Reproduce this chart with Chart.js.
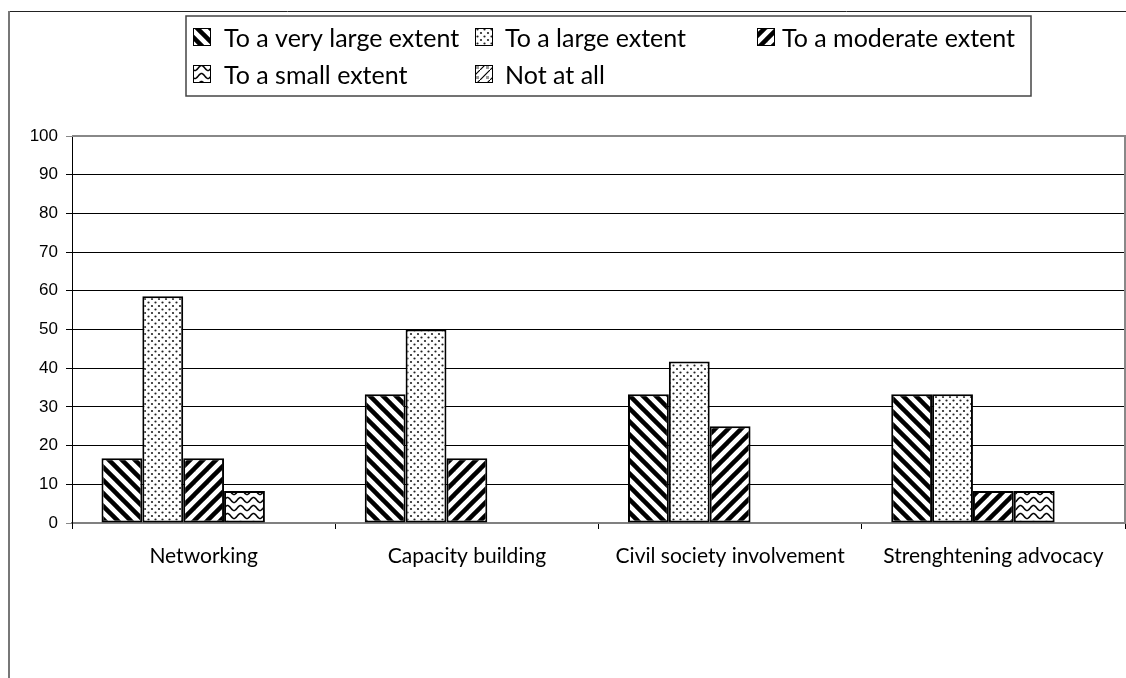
<!DOCTYPE html>
<html>
<head>
<meta charset="utf-8">
<script src="https://cdn.jsdelivr.net/npm/chart.js@4/dist/chart.umd.min.js"></script>
<style>
  html, body { margin: 0; padding: 0; background: #fff; }
  #wrap { position: relative; width: 1126px; height: 678px; }
</style>
</head>
<body>
<div id="wrap"><canvas id="c" width="1126" height="678"></canvas></div>
<script>
const categories = ["Networking", "Capacity building", "Civil society involvement", "Strenghtening advocacy"];
const seriesNames = ["To a very large extent", "To a large extent", "To a moderate extent", "To a small extent", "Not at all"];
const veryLarge = [16.7, 33.3, 33.3, 33.3];
const large = [58.6, 50.0, 41.7, 33.3];
const moderate = [16.7, 16.7, 25.0, 8.3];
const small = [8.3, 0, 0, 8.3];
const notAtAll = [0, 0, 0, 0];
const yTicks = [0, 10, 20, 30, 40, 50, 60, 70, 80, 90, 100];

function tile(w, h, draw) {
  const cv = document.createElement('canvas');
  cv.width = w; cv.height = h;
  const g = cv.getContext('2d');
  g.fillStyle = '#fff'; g.fillRect(0, 0, w, h);
  draw(g, w, h);
  return cv;
}
function diag(back) {
  return tile(13, 13, (g, w, h) => {
    g.strokeStyle = '#000'; g.lineWidth = 4.5;
    for (let k = -1; k <= 1; k++) {
      g.beginPath();
      if (back) { g.moveTo(k * w - 2, -2); g.lineTo(k * w + w + 2, h + 2); }
      else { g.moveTo(k * w - 2, h + 2); g.lineTo(k * w + w + 2, -2); }
      g.stroke();
    }
  });
}
const tiles = [
  diag(true),
  tile(7, 7, (g) => {
    g.fillStyle = '#222';
    g.beginPath(); g.arc(1.5, 1.5, 1.1, 0, 7); g.fill();
    g.beginPath(); g.arc(5, 5, 1.1, 0, 7); g.fill();
  }),
  diag(false),
  tile(13, 8, (g, w, h) => {
    g.strokeStyle = '#000'; g.lineWidth = 1.5;
    g.beginPath();
    for (let x = 0; x <= w; x += 0.5) {
      const y = 4 + 2.5 * Math.cos((x / w) * Math.PI * 2);
      if (x === 0) g.moveTo(x, y); else g.lineTo(x, y);
    }
    g.stroke();
  }),
  tile(10, 10, (g, w, h) => {
    g.strokeStyle = '#000'; g.lineWidth = 1.2;
    g.beginPath(); g.moveTo(0, h); g.lineTo(w, 0); g.stroke();
    g.fillStyle = '#999'; g.fillRect(6, 6, 3, 3);
  })
];
const ctx0 = document.getElementById('c').getContext('2d');
const patterns = tiles.map(t => ctx0.createPattern(t, 'repeat'));
const seriesData = [veryLarge, large, moderate, small, notAtAll];

const frame = {
  id: 'frame',
  beforeDraw(chart) {
    const c = chart.ctx;
    c.save();
    c.fillStyle = '#fff'; c.fillRect(0, 0, chart.width, chart.height);
    c.restore();
  },
  afterDraw(chart) {
    const c = chart.ctx, a = chart.chartArea;
    c.save();
    // outer frame
    c.strokeStyle = '#222'; c.lineWidth = 1;
    c.beginPath(); c.moveTo(8, 11.5); c.lineTo(chart.width, 11.5); c.stroke();
    c.strokeStyle = '#777'; c.lineWidth = 2;
    c.beginPath(); c.moveTo(9, 11); c.lineTo(9, chart.height); c.stroke();
    // plot area border (top / right)
    c.strokeStyle = '#888'; c.lineWidth = 2;
    c.beginPath(); c.moveTo(a.left, a.top); c.lineTo(a.right, a.top); c.lineTo(a.right, a.bottom); c.stroke();
    // legend box
    const bx = 186, by = 16, bw = 845, bh = 80;
    c.strokeStyle = '#444'; c.lineWidth = 1.5;
    c.strokeRect(bx, by, bw, bh);
    const cols = [193, 475, 757];
    const textOff = [31, 30, 25];
    const rows = [37, 74];
    c.font = '25px Lato';
    c.fillStyle = '#000';
    c.textBaseline = 'middle';
    seriesNames.forEach((name, i) => {
      const col = i % 3, row = Math.floor(i / 3);
      const sx = cols[col], sy = rows[row] - 9;
      c.fillStyle = patterns[i];
      c.fillRect(sx, sy, 18, 18);
      c.strokeStyle = '#000'; c.lineWidth = 1;
      c.strokeRect(sx + 0.5, sy + 0.5, 17, 17);
      c.fillStyle = '#000';
      c.fillText(name, sx + textOff[col], rows[row] + 2);
    });
    c.restore();
  }
};

new Chart(document.getElementById('c'), {
  type: 'bar',
  data: {
    labels: categories,
    datasets: seriesNames.map((n, i) => ({
      label: n,
      data: seriesData[i],
      backgroundColor: patterns[i],
      borderColor: '#000',
      borderWidth: 2,
      borderSkipped: false,
      categoryPercentage: 0.776,
      barPercentage: 1.0
    }))
  },
  options: {
    responsive: false,
    animation: false,
    devicePixelRatio: 1,
    layout: { padding: { top: 136, left: 0, right: 1, bottom: 0 } },
    plugins: { legend: { display: false }, tooltip: { enabled: false } },
    scales: {
      x: {
        grid: { display: true, drawOnChartArea: false, drawTicks: true, tickLength: 6, color: '#000', offset: true },
        border: { display: true, color: '#808080', width: 2 },
        ticks: { font: { family: 'Lato', size: 21 }, color: '#000', padding: 15, maxRotation: 0, autoSkip: false },
        afterFit(s) { s.height = 155; }
      },
      y: {
        min: 0, max: 100,
        afterBuildTicks(s) { s.ticks = yTicks.map(v => ({ value: v })); },
        grid: {
          color: (ctx) => (ctx.tick && (ctx.tick.value === 100 || ctx.tick.value === 0)) ? '#888' : '#000',
          lineWidth: 1, tickLength: 6, drawTicks: true
        },
        border: { display: true, color: '#000', width: 1 },
        ticks: { font: { family: 'Liberation Sans', size: 17 }, color: '#000', padding: 8 },
        afterFit(s) { s.width = 72; }
      }
    }
  },
  plugins: [frame]
});
</script>
</body>
</html>
